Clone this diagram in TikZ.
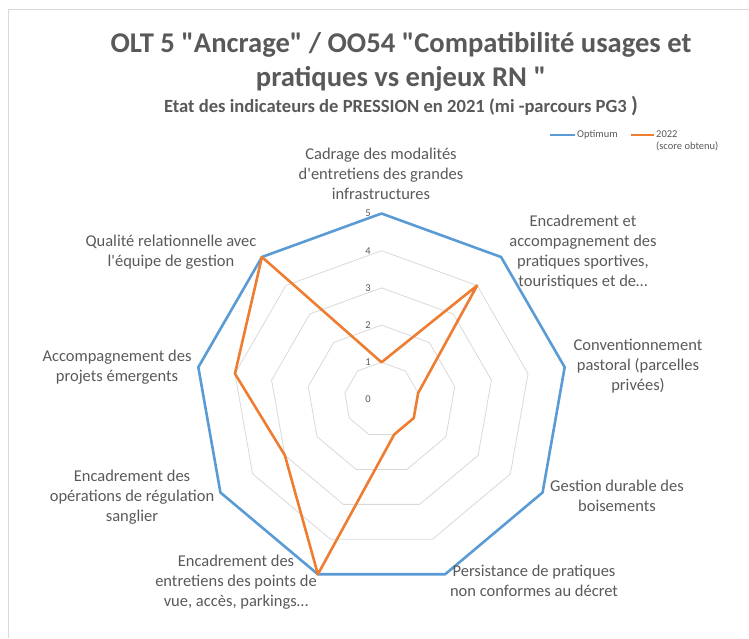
\documentclass[tikz,border=0pt]{standalone}
\usepackage{fontspec}
\setmainfont{Carlito}[Ligatures=TeXOff]
\usepackage{xcolor}
\usepackage{tikz}
\usetikzlibrary{positioning}
\definecolor{optblue}{HTML}{5B9BD5}
\definecolor{scoreorange}{HTML}{ED7D31}
\definecolor{txtgray}{HTML}{595959}
\definecolor{gridgray}{HTML}{D9D9D9}
\definecolor{framegray}{HTML}{D9D9D9}

\begin{document}
\begin{tikzpicture}[x=1pt,y=1pt, every node/.style={text=txtgray, align=center, inner sep=0pt},
	lab/.style={font=\fontsize{16.5}{20}\selectfont},
	tick/.style={font=\fontsize{10.5}{12}\selectfont},
	grid/.style={draw=gridgray, line width=0.8pt},
	serie/.style={line width=2.6pt, line join=round}]
\useasboundingbox (0,0) rectangle (749,638);
\draw[framegray, line width=1pt] (8,0) -- (8,628) -- (749,628);

% titre et sous-titre
\node[font=\fontsize{28.6}{34}\selectfont\bfseries] (titre) at (401,576) {OLT 5 "Ancrage" / OO54 "Compatibilité usages et\\pratiques vs enjeux RN "};
\node[anchor=base, font=\fontsize{18.6}{22}\selectfont\bfseries] (soustitre) at (401,525) {Etat des indicateurs de PRESSION en 2021 (mi -parcours PG3 {\fontsize{22}{22}\selectfont)}};

% legende
\draw[optblue, line width=2.5pt] (550,503) -- (575,503);
\node[anchor=west, font=\fontsize{10.5}{12}\selectfont] (legopt) at (577,503) {Optimum};
\draw[scoreorange, line width=2.5pt] (631,503) -- (654,503);
\node[anchor=west, align=left, font=\fontsize{10.5}{12}\selectfont] (legscore) at (656,497) {2022\\(score obtenu)};

\begin{scope}[shift={(381.5,238.5)}]
\draw[grid] (90:37.2) -- (50:37.2) -- (10:37.2) -- (-30:37.2) -- (-70:37.2) -- (-110:37.2) -- (-150:37.2) -- (170:37.2) -- (130:37.2) -- cycle;
\draw[grid] (90:74.4) -- (50:74.4) -- (10:74.4) -- (-30:74.4) -- (-70:74.4) -- (-110:74.4) -- (-150:74.4) -- (170:74.4) -- (130:74.4) -- cycle;
\draw[grid] (90:111.6) -- (50:111.6) -- (10:111.6) -- (-30:111.6) -- (-70:111.6) -- (-110:111.6) -- (-150:111.6) -- (170:111.6) -- (130:111.6) -- cycle;
\draw[grid] (90:148.8) -- (50:148.8) -- (10:148.8) -- (-30:148.8) -- (-70:148.8) -- (-110:148.8) -- (-150:148.8) -- (170:148.8) -- (130:148.8) -- cycle;
\draw[grid] (90:186) -- (50:186) -- (10:186) -- (-30:186) -- (-70:186) -- (-110:186) -- (-150:186) -- (170:186) -- (130:186) -- cycle;

% Optimum
\draw[serie, optblue] (90:186) -- (50:186) -- (10:186) -- (-30:186) -- (-70:186) -- (-110:186) -- (-150:186) -- (170:186) -- (130:186) -- cycle;
% 2022
\draw[serie, scoreorange] (90:37.2) -- (50:148.8) -- (10:37.2) -- (-30:37.2) -- (-70:37.2) -- (-110:186) -- (-150:111.6) -- (170:148.8) -- (130:186) -- cycle;

\node[tick] (v0) at (-13.5,0) {0};
\node[tick] (v1) at (-13.5,37.2) {1};
\node[tick] (v2) at (-13.5,74.4) {2};
\node[tick] (v3) at (-13.5,111.6) {3};
\node[tick] (v4) at (-13.5,148.8) {4};
\node[tick] (v5) at (-13.5,186) {5};
\end{scope}

% libelles des axes
\node[lab] (cadrage) at (381,464) {Cadrage des modalités\\d'entretiens des grandes\\infrastructures};
\node[lab] (sport) at (583,386) {Encadrement et\\accompagnement des\\pratiques sportives,\\touristiques et de…};
\node[lab] (pastoral) at (638,272) {Conventionnement\\pastoral (parcelles\\privées)};
\node[lab] (boisement) at (617,142) {Gestion durable des\\boisements};
\node[lab] (decret) at (534,57) {Persistance de pratiques\\non conformes au décret};
\node[lab] (parking) at (236,56) {Encadrement des\\entretiens des points de\\vue, accès, parkings…};
\node[lab] (sanglier) at (132,141) {Encadrement des\\opérations de régulation\\sanglier};
\node[lab] (projet) at (117,271) {Accompagnement des\\projets émergents};
\node[lab] (equipe) at (171,386) {Qualité relationnelle avec\\l'équipe de gestion};
\end{tikzpicture}
\end{document}
